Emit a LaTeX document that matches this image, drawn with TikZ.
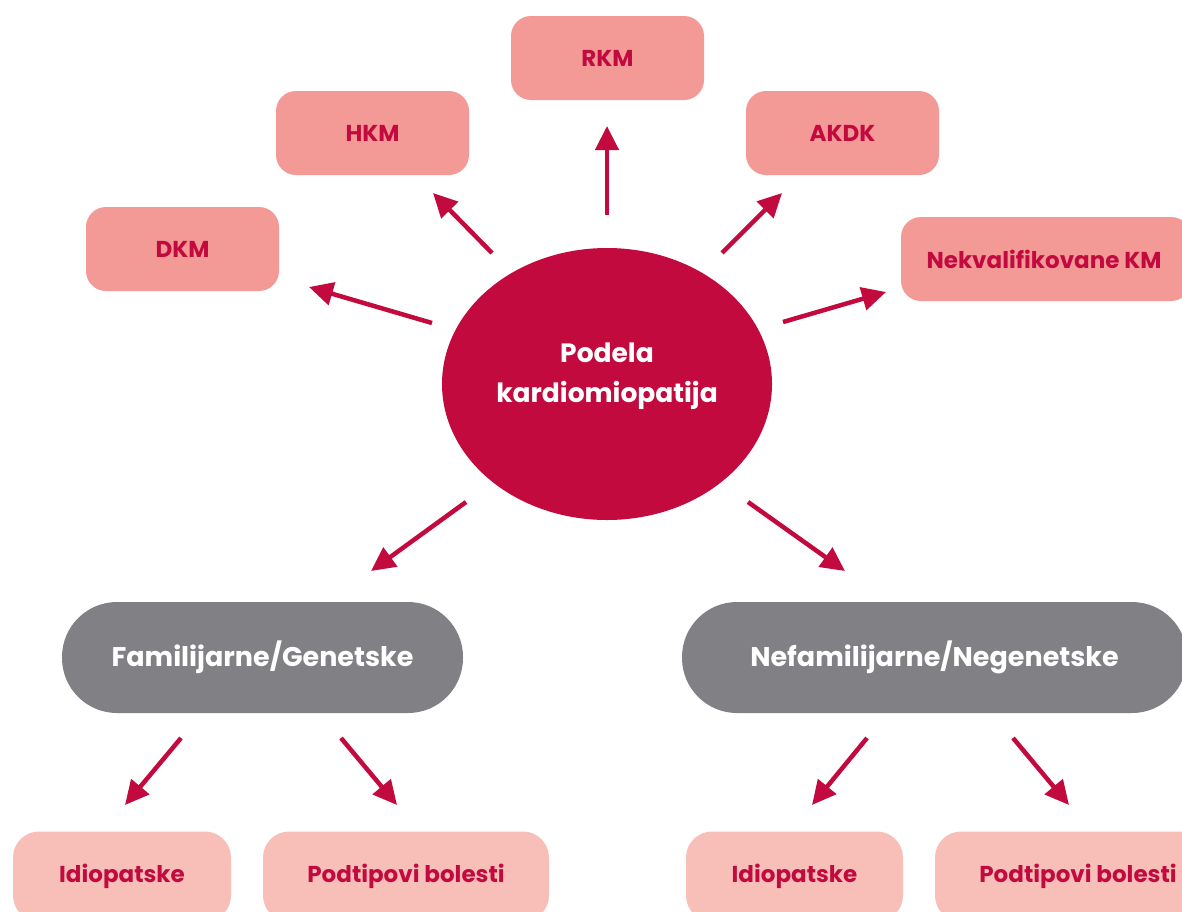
\documentclass[tikz,border=0pt]{standalone}
\usepackage{fontspec}
\setmainfont{Poppins}
\usetikzlibrary{arrows.meta,shapes.geometric}
\definecolor{crim}{HTML}{C20A3E}
\definecolor{pinkbox}{HTML}{F49A96}
\definecolor{lightbox}{HTML}{F8BFB9}
\definecolor{graybox}{HTML}{818185}
\tikzset{
  topbox/.style={draw=none,fill=pinkbox,rounded corners=20pt,minimum width=193pt,minimum height=84pt,inner sep=0pt,text=crim,font=\fontsize{23}{27}\selectfont\bfseries},
  botbox/.style={draw=none,fill=lightbox,rounded corners=26pt,minimum height=90pt,inner sep=0pt,text=crim,font=\fontsize{23}{27}\selectfont\bfseries},
  pill/.style={draw=none,fill=graybox,rounded corners=55pt,minimum height=111pt,inner sep=0pt,text=white,font=\fontsize{27}{32}\selectfont\bfseries},
  arr/.style={draw=crim,line width=4.5pt,-{Triangle[length=24pt,width=23pt]}},
  lift/.style={text depth=2.5pt},
}
\begin{document}
\begin{tikzpicture}[x=1pt,y=-1pt]
\useasboundingbox (0,0) rectangle (1182,911);
\clip (0,0) rectangle (1182,911);
% central ellipse
\node[ellipse,fill=crim,minimum width=330pt,minimum height=272pt,inner sep=0pt] (c) at (607,384) {};
\node[text=white,align=center,font=\fontsize{26.5}{40}\selectfont\bfseries] (ct) at (607,376) {Podela\\kardiomiopatija};
% top boxes
\node[topbox] (rkm) at (607.5,58) {RKM};
\node[topbox] (hkm) at (372.5,133) {HKM};
\node[topbox] (akdk) at (842.5,133) {AKDK};
\node[topbox] (dkm) at (182.5,249) {DKM};
\node[topbox,minimum width=290pt] (nkm) at (1046,259) {\hspace*{-4pt}Nekvalifikovane KM};
% gray pills
\node[pill,minimum width=401pt] (fam) at (262.5,657.5) {Familijarne/Genetske};
\node[pill,minimum width=505pt] (nef) at (934.5,657.5) {Nefamilijarne/Negenetske};
% bottom boxes
\node[botbox,minimum width=218pt] (id1) at (122,876.5) {Idiopatske};
\node[botbox,minimum width=286pt] (pb1) at (406,876.5) {Podtipovi bolesti};
\node[botbox,minimum width=217pt] (id2) at (794.5,876.5) {Idiopatske};
\node[botbox,minimum width=290pt] (pb2) at (1080,876.5) {\hspace*{-4pt}Podtipovi bolesti};
% arrow coordinates
\coordinate (sdkm) at (432,323); \coordinate (tdkm) at (309,287);
\coordinate (shkm) at (492,253); \coordinate (thkm) at (433,193);
\coordinate (srkm) at (607,215); \coordinate (trkm) at (607,126);
\coordinate (sakdk) at (722,253); \coordinate (takdk) at (782,193);
\coordinate (snkm) at (783,322); \coordinate (tnkm) at (886,292);
\coordinate (sfam) at (466,502); \coordinate (tfam) at (371,571);
\coordinate (snef) at (748,502); \coordinate (tnef) at (845,571);
\coordinate (sa1) at (181,738); \coordinate (ta1) at (125,805);
\coordinate (sb1) at (341,738); \coordinate (tb1) at (397,805);
\coordinate (sa2) at (867,738); \coordinate (ta2) at (812,805);
\coordinate (sb2) at (1013,738); \coordinate (tb2) at (1069,805);
\foreach \s/\t in {sdkm/tdkm,shkm/thkm,srkm/trkm,sakdk/takdk,snkm/tnkm,sfam/tfam,snef/tnef,sa1/ta1,sb1/tb1,sa2/ta2,sb2/tb2}
  \draw[arr] (\s) -- (\t);
\end{tikzpicture}
\end{document}
